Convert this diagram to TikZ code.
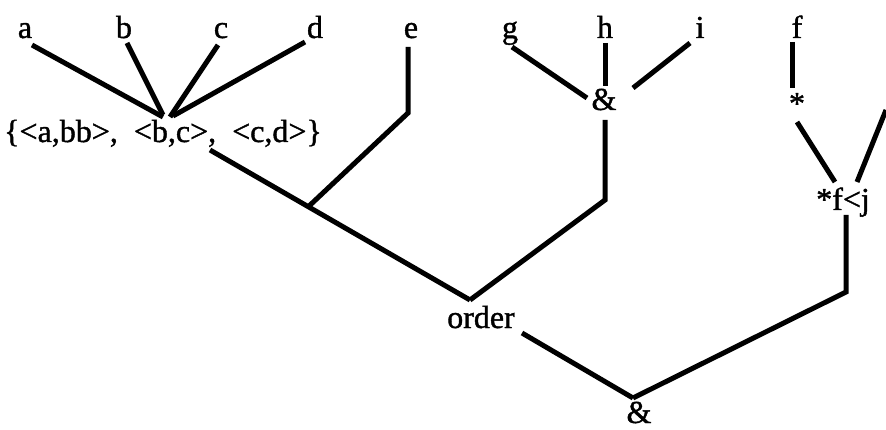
\documentclass[tikz,border=0pt]{standalone}
\usepackage{fontspec}
\setmainfont[FakeBold=1.2]{Liberation Serif}
\begin{document}
\begin{tikzpicture}[x=1pt,y=-1pt,
  lbl/.style={anchor=base,inner sep=0pt,font=\fontsize{32}{38}\selectfont},
  edge/.style={line width=5pt,line cap=butt,line join=miter}]
\useasboundingbox[fill=white] (0,0) rectangle (886,430);
% labels
\node[lbl] (a) at (25,38) {a};
\node[lbl] (b) at (124,38) {b};
\node[lbl] (c) at (221,38) {c};
\node[lbl] (d) at (315,38) {d};
\node[lbl] (e) at (411,38) {e};
\node[lbl] (g) at (510,38) {g};
\node[lbl] (h) at (605,38) {h};
\node[lbl] (i) at (700,38) {i};
\node[lbl] (f) at (797,38) {f};
\node[lbl] (amp1) at (604,110) {\&};
\node[lbl] (star) at (797,114) {*};
\node[lbl,anchor=base west] (set) at (4,142) {\{<a,bb>,\ \ <b,c>,\ \ <c,d>\}};
\node[lbl] (fj) at (843,210) {*f<j};
\node[lbl] (order) at (481,328) {order};
\node[lbl] (amp2) at (639,423) {\&};
% connector end points
\coordinate (a1) at (32,45);   \coordinate (a2) at (163,117);
\coordinate (b1) at (127,43);  \coordinate (b2) at (163,115);
\coordinate (c1) at (218,45);  \coordinate (c2) at (170,117);
\coordinate (d1) at (305,42);  \coordinate (d2) at (173,116);
\coordinate (s1) at (210,150); \coordinate (top) at (470,300);
\coordinate (e1) at (408,47);  \coordinate (e2) at (408,113); \coordinate (e3) at (308,207);
\coordinate (g1) at (512,47);  \coordinate (g2) at (587,98);
\coordinate (h1) at (605,43);  \coordinate (h2) at (605,86);
\coordinate (i1) at (690,43);  \coordinate (i2) at (633,88);
\coordinate (m1) at (605,120); \coordinate (m2) at (605,200);
\coordinate (f1) at (792,42);  \coordinate (f2) at (792,88);
\coordinate (t1) at (797,122); \coordinate (t2) at (835,182);
\coordinate (j1) at (857,182); \coordinate (j2) at (886,110);
\coordinate (k1) at (846,215); \coordinate (k2) at (846,292);
\coordinate (o1) at (522,333); \coordinate (bot) at (633,398);
% connectors
\draw[edge] (a1) -- (a2);
\draw[edge] (b1) -- (b2);
\draw[edge] (c1) -- (c2);
\draw[edge] (d1) -- (d2);
\draw[edge] (s1) -- (top);
\draw[edge] (e1) -- (e2) -- (e3);
\draw[edge] (g1) -- (g2);
\draw[edge] (h1) -- (h2);
\draw[edge] (i1) -- (i2);
\draw[edge] (m1) -- (m2) -- (top);
\draw[edge] (f1) -- (f2);
\draw[edge] (t1) -- (t2);
\draw[edge] (j1) -- (j2);
\draw[edge] (k1) -- (k2) -- (bot);
\draw[edge] (o1) -- (bot);
\end{tikzpicture}
\end{document}
